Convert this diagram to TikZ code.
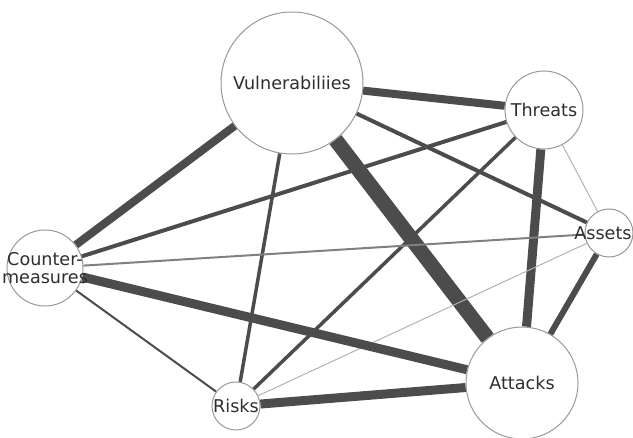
\documentclass[tikz,border=0pt]{standalone}
\usepackage{fontspec}
\setmainfont{DejaVu Sans}
\usetikzlibrary{backgrounds}

\begin{document}
\begin{tikzpicture}[x=0.5pt,y=-0.5pt,font=\fontsize{8.8}{8.6}\selectfont,
  vtx/.style={circle,draw=cring,line width=0.5pt,fill=white,inner sep=0pt,minimum size=#1},
  lbl/.style={text=ctext,align=center,inner sep=0pt}]
\colorlet{cedge}{black!70}\colorlet{cring}{black!40}\colorlet{ctext}{black!82}\colorlet{cfaint}{black!30}
\useasboundingbox (0,0) rectangle (633,438);
% ---- nodes ----
\node[vtx=71pt,label={[lbl]center:Vulnerabiliies}] (vul) at (292,83) {};
\node[vtx=39pt,label={[lbl]center:Threats}] (thr) at (544,110) {};
\node[vtx=24pt,label={[lbl,xshift=-3pt]center:Assets}] (ast) at (609,233) {};
\node[vtx=38pt,label={[lbl]center:Counter-\\measures}] (cm) at (45,268) {};
\node[vtx=24pt,label={[lbl]center:Risks}] (rsk) at (236,406) {};
\node[vtx=56pt,label={[lbl]center:Attacks}] (att) at (522,383) {};
% ---- links, width = strength ----
\begin{scope}[on background layer]
\foreach \a/\b/\w/\c in {vul/thr/4/cedge,vul/att/7.5/cedge,vul/cm/4/cedge,vul/ast/2/cedge,
    vul/rsk/1.75/cedge,thr/cm/2/cedge,thr/rsk/1.75/cedge,thr/att/4.5/cedge,thr/ast/0.5/cfaint,
    ast/cm/1/black!50,ast/att/3/cedge,ast/rsk/0.5/cfaint,cm/att/4.5/cedge,cm/rsk/1/cedge,
    rsk/att/4.5/cedge}{
  \draw[line width=\w pt,draw=\c] (\a) -- (\b);}
\end{scope}
\end{tikzpicture}
\end{document}
